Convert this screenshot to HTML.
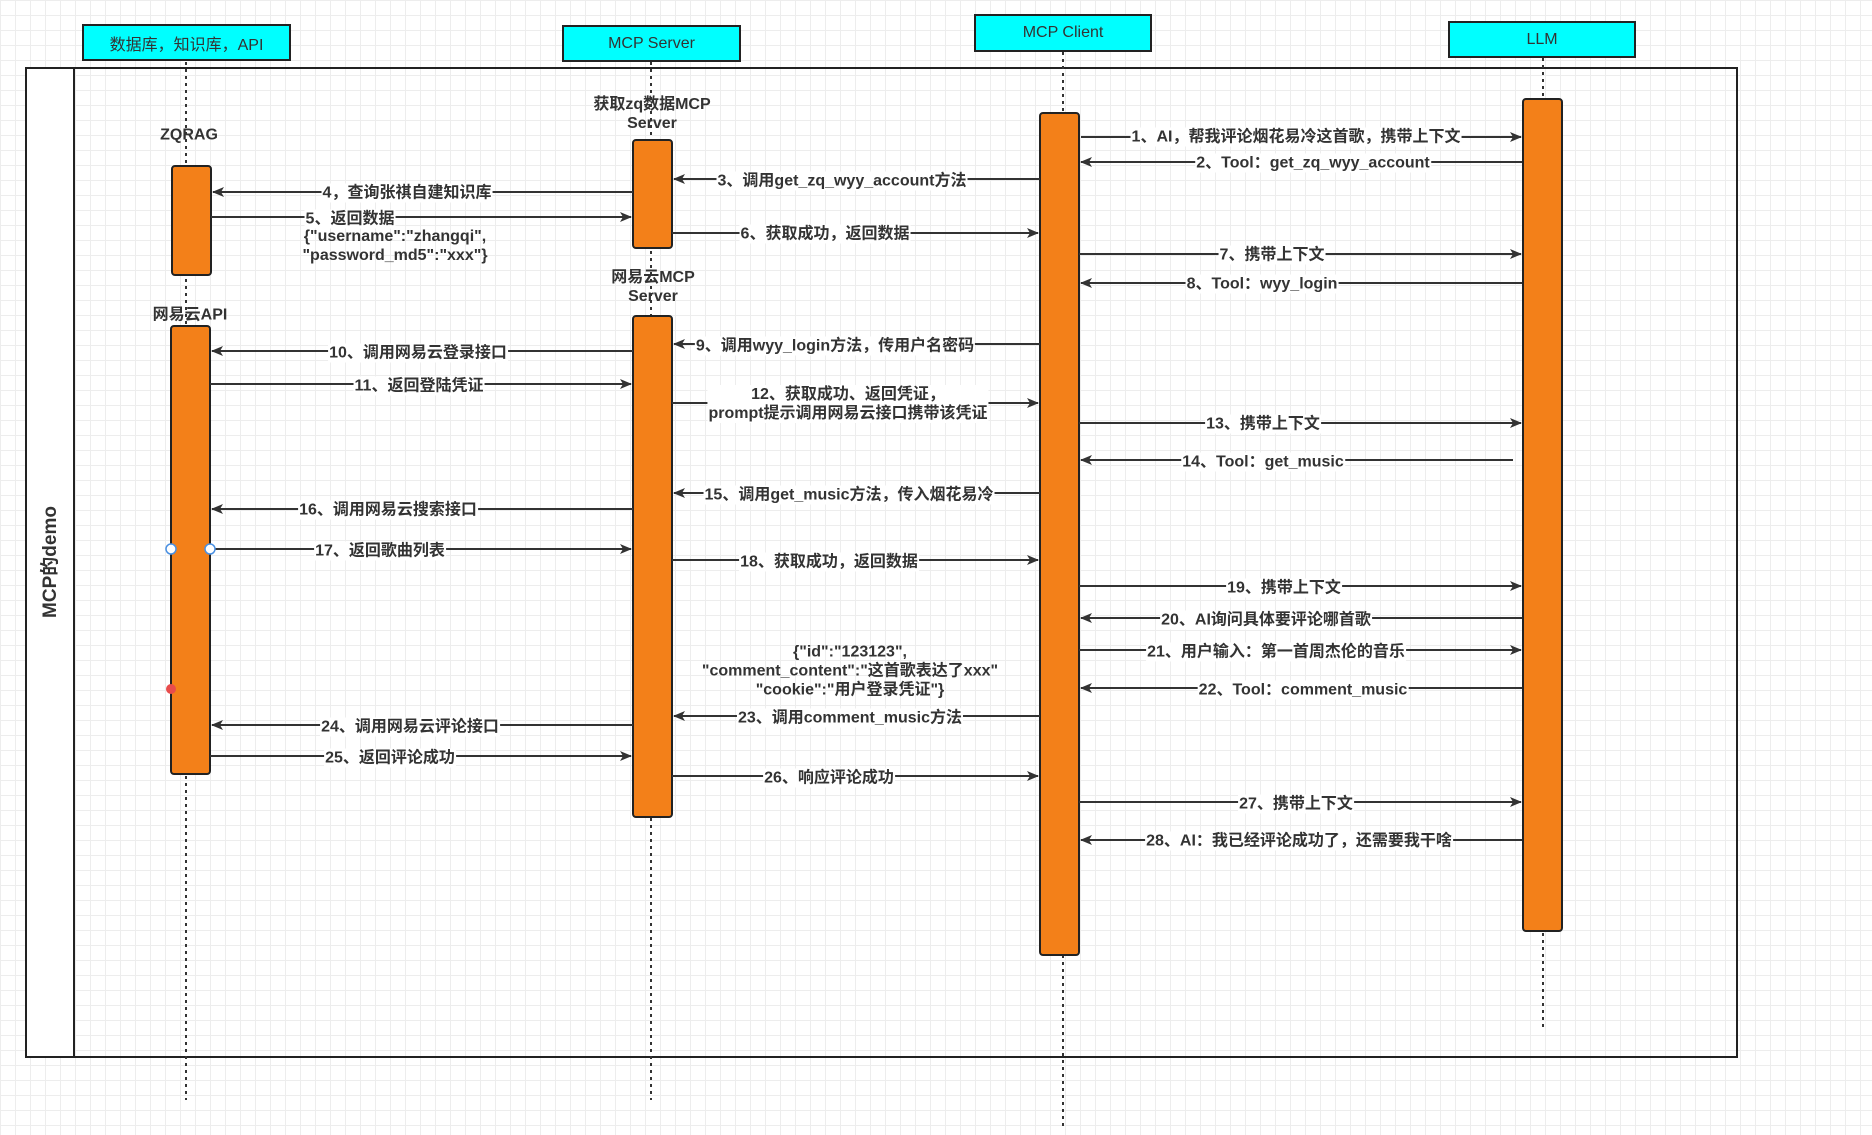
<!DOCTYPE html>
<html><head><meta charset="utf-8"><style>
html,body{margin:0;padding:0}
body{width:1872px;height:1135px;position:relative;overflow:hidden;background:#fff;
background-image:linear-gradient(#ededed 1px,transparent 1px),linear-gradient(90deg,#ededed 1px,transparent 1px);background-size:15px 15px;
font-family:"Liberation Sans","Noto Sans CJK SC",sans-serif}
svg{position:absolute;left:0;top:0}
.l{position:absolute;transform:translate(-50%,-50%);background:#fff;color:#333;font-weight:bold;font-size:16px;line-height:19px;white-space:nowrap;text-align:center;padding:0 1px}
.n{position:absolute;transform:translate(-50%,-50%);color:#333;font-weight:bold;font-size:16px;line-height:19px;white-space:nowrap;text-align:center}
.h{position:absolute;background:#00ffff;border:2px solid #222;box-sizing:border-box;color:#333;font-size:16px;display:flex;align-items:center;justify-content:center}
</style></head><body>
<svg width="1872" height="1135">
<defs><marker id="a" markerWidth="12" markerHeight="10" refX="11" refY="5" orient="auto" markerUnits="userSpaceOnUse"><path d="M0,0 L12,5 L0,10 L3,5z" fill="#333"/></marker></defs>
<rect x="26" y="68" width="1711" height="989" fill="none" stroke="#222" stroke-width="2"/>
<rect x="27" y="69" width="47" height="987" fill="#fff"/>
<line x1="74" y1="68" x2="74" y2="1057" stroke="#222" stroke-width="2"/>
<g stroke="#333" stroke-width="2" stroke-dasharray="3,4">
<line x1="186" y1="62" x2="186" y2="1100"/>
<line x1="651" y1="62" x2="651" y2="1100"/>
<line x1="1063" y1="52" x2="1063" y2="1128"/>
<line x1="1543" y1="58" x2="1543" y2="1030"/>
</g>
<g fill="#f38019" stroke="#222" stroke-width="2">
<rect x="172" y="166" width="39" height="109" rx="3"/>
<rect x="171" y="326" width="39" height="448" rx="3"/>
<rect x="633" y="140" width="39" height="108" rx="3"/>
<rect x="633" y="316" width="39" height="501" rx="3"/>
<rect x="1040" y="113" width="39" height="842" rx="3"/>
<rect x="1523" y="99" width="39" height="832" rx="3"/>
</g>
<g stroke="#333" stroke-width="2" marker-end="url(#a)">
<line x1="1081" y1="137" x2="1521" y2="137"/>
<line x1="1522" y1="162" x2="1081" y2="162"/>
<line x1="1040" y1="179" x2="674" y2="179"/>
<line x1="633" y1="192" x2="213" y2="192"/>
<line x1="211" y1="217" x2="631" y2="217"/>
<line x1="672" y1="233" x2="1038" y2="233"/>
<line x1="1079" y1="254" x2="1521" y2="254"/>
<line x1="1522" y1="283" x2="1081" y2="283"/>
<line x1="1040" y1="344" x2="674" y2="344"/>
<line x1="633" y1="351" x2="212" y2="351"/>
<line x1="210" y1="384" x2="631" y2="384"/>
<line x1="672" y1="403" x2="1038" y2="403"/>
<line x1="1079" y1="423" x2="1521" y2="423"/>
<line x1="1513" y1="460" x2="1081" y2="460"/>
<line x1="1040" y1="493" x2="674" y2="493"/>
<line x1="633" y1="509" x2="212" y2="509"/>
<line x1="210" y1="549" x2="631" y2="549"/>
<line x1="672" y1="560" x2="1038" y2="560"/>
<line x1="1079" y1="586" x2="1521" y2="586"/>
<line x1="1522" y1="618" x2="1081" y2="618"/>
<line x1="1079" y1="650" x2="1521" y2="650"/>
<line x1="1522" y1="688" x2="1081" y2="688"/>
<line x1="1040" y1="716" x2="674" y2="716"/>
<line x1="633" y1="725" x2="212" y2="725"/>
<line x1="210" y1="756" x2="631" y2="756"/>
<line x1="672" y1="776" x2="1038" y2="776"/>
<line x1="1079" y1="802" x2="1521" y2="802"/>
<line x1="1522" y1="840" x2="1081" y2="840"/>
</g>
<circle cx="171" cy="549" r="5" fill="#fff" stroke="#4a90e2" stroke-width="1.5"/>
<circle cx="210" cy="549" r="5" fill="#fff" stroke="#4a90e2" stroke-width="1.5"/>
<circle cx="171" cy="689" r="5" fill="#e84c4c"/>
<text x="51" y="562" transform="rotate(-90 51 562)" text-anchor="middle" dominant-baseline="middle" font-family="Liberation Sans,Noto Sans CJK SC,sans-serif" font-weight="bold" font-size="19" fill="#333">MCP的demo</text>
</svg>
<div class="h" style="left:82px;top:24px;width:209px;height:37px">数据库，知识库，API</div>
<div class="h" style="left:562px;top:25px;width:179px;height:37px">MCP Server</div>
<div class="h" style="left:974px;top:14px;width:178px;height:38px">MCP Client</div>
<div class="h" style="left:1448px;top:21px;width:188px;height:37px">LLM</div>
<div class="n" style="left:189px;top:135px">ZQRAG</div>
<div class="n" style="left:190px;top:315px">网易云API</div>
<div class="n" style="left:652px;top:114px">获取zq数据MCP<br>Server</div>
<div class="n" style="left:653px;top:287px">网易云MCP<br>Server</div>
<div class="l" style="left:1296px;top:137px">1、AI，帮我评论烟花易冷这首歌，携带上下文</div>
<div class="l" style="left:1313px;top:163px">2、Tool：get_zq_wyy_account</div>
<div class="l" style="left:842px;top:181px">3、调用get_zq_wyy_account方法</div>
<div class="l" style="left:407px;top:193px">4，查询张祺自建知识库</div>
<div class="l" style="left:350px;top:219px">5、返回数据</div>
<div class="n" style="left:395px;top:246px">{"username":"zhangqi",<br>"password_md5":"xxx"}</div>
<div class="l" style="left:825px;top:234px">6、获取成功，返回数据</div>
<div class="l" style="left:1272px;top:255px">7、携带上下文</div>
<div class="l" style="left:1262px;top:284px">8、Tool：wyy_login</div>
<div class="l" style="left:835px;top:346px">9、调用wyy_login方法，传用户名密码</div>
<div class="l" style="left:418px;top:353px">10、调用网易云登录接口</div>
<div class="l" style="left:419px;top:386px">11、返回登陆凭证</div>
<div class="l" style="left:848px;top:404px">12、获取成功、返回凭证，<br>prompt提示调用网易云接口携带该凭证</div>
<div class="l" style="left:1263px;top:424px">13、携带上下文</div>
<div class="l" style="left:1263px;top:462px">14、Tool：get_music</div>
<div class="l" style="left:849px;top:495px">15、调用get_music方法，传入烟花易冷</div>
<div class="l" style="left:388px;top:510px">16、调用网易云搜索接口</div>
<div class="l" style="left:380px;top:551px">17、返回歌曲列表</div>
<div class="l" style="left:829px;top:562px">18、获取成功，返回数据</div>
<div class="l" style="left:1284px;top:588px">19、携带上下文</div>
<div class="l" style="left:1266px;top:620px">20、AI询问具体要评论哪首歌</div>
<div class="l" style="left:1276px;top:652px">21、用户输入：第一首周杰伦的音乐</div>
<div class="l" style="left:1303px;top:690px">22、Tool：comment_music</div>
<div class="n" style="left:850px;top:671px">{"id":"123123",<br>"comment_content":"这首歌表达了xxx"<br>"cookie":"用户登录凭证"}</div>
<div class="l" style="left:850px;top:718px">23、调用comment_music方法</div>
<div class="l" style="left:410px;top:727px">24、调用网易云评论接口</div>
<div class="l" style="left:390px;top:758px">25、返回评论成功</div>
<div class="l" style="left:829px;top:778px">26、响应评论成功</div>
<div class="l" style="left:1296px;top:804px">27、携带上下文</div>
<div class="l" style="left:1299px;top:841px">28、AI：我已经评论成功了，还需要我干啥</div>
</body></html>
